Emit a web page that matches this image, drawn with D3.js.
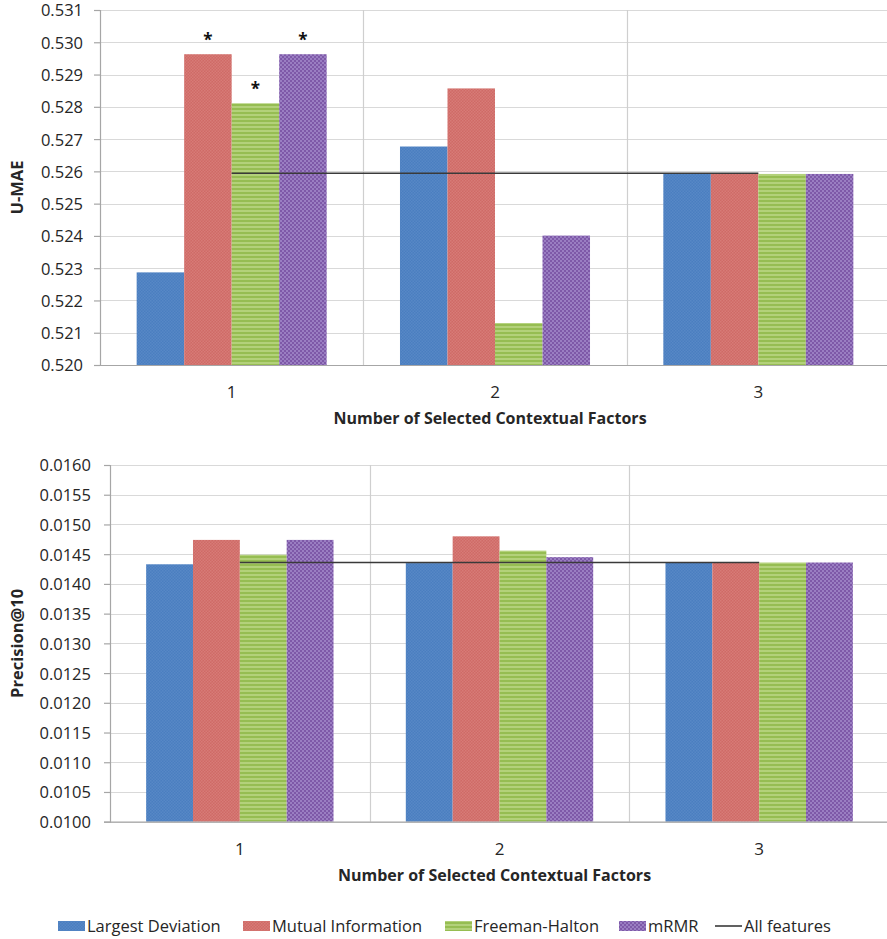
<!DOCTYPE html>
<html>
<head>
<meta charset="utf-8">
<script src="https://cdn.jsdelivr.net/npm/d3@7"></script>
<style>
  html, body { margin: 0; padding: 0; background: #fff; }
  svg { display: block; font-family: "Open Sans", "DejaVu Sans", sans-serif; }
</style>
</head>
<body>
<svg id="chart" width="887" height="939"></svg>
<script>
// Categories and series
const categories = ["1", "2", "3"];
const seriesNames = ["Largest Deviation", "Mutual Information", "Freeman-Halton", "mRMR"];

// U-MAE per series (one value per category)
const maeLargestDeviation = [0.52287, 0.52677, 0.52593];
const maeMutualInformation = [0.52963, 0.52857, 0.52593];
const maeFreemanHalton = [0.52811, 0.52130, 0.52592];
const maeMRMR = [0.52963, 0.52401, 0.52592];
const maeAllFeatures = [0.52594, 0.52594, 0.52594];
// significance markers (series index, category index)
const maeStars = [[1, 0], [2, 0], [3, 0]];
const maeTicks = [0.520, 0.521, 0.522, 0.523, 0.524, 0.525, 0.526, 0.527, 0.528, 0.529, 0.530, 0.531];

// Precision@10 per series
const precLargestDeviation = [0.01433, 0.01435, 0.01436];
const precMutualInformation = [0.01474, 0.01480, 0.01436];
const precFreemanHalton = [0.01449, 0.01456, 0.01436];
const precMRMR = [0.01474, 0.01445, 0.01436];
const precAllFeatures = [0.01436, 0.01436, 0.01436];
const precStars = [];
const precTicks = [0.0100, 0.0105, 0.0110, 0.0115, 0.0120, 0.0125, 0.0130, 0.0135, 0.0140, 0.0145, 0.0150, 0.0155, 0.0160];

const xTitle = "Number of Selected Contextual Factors";
const allLabel = "All features";

const patternIds = ["pat-blue", "pat-red", "pat-green", "pat-purple"];

const svg = d3.select("#chart");
const defs = svg.append("defs");

// Fill patterns for the bars
function dotPattern(id, base, dot, size) {
  const p = defs.append("pattern").attr("id", id).attr("patternUnits", "userSpaceOnUse")
    .attr("width", size).attr("height", size);
  p.append("rect").attr("width", size).attr("height", size).attr("fill", base);
  p.append("rect").attr("x", 0).attr("y", 0).attr("width", size / 2).attr("height", size / 2).attr("fill", dot);
  p.append("rect").attr("x", size / 2).attr("y", size / 2).attr("width", size / 2).attr("height", size / 2).attr("fill", dot);
}
dotPattern("pat-blue", "#4a7ec0", "#5788c6", 3);
dotPattern("pat-red", "#cf6a66", "#d77b77", 3);
dotPattern("pat-purple", "#7e59a8", "#9a7ec2", 4);
(function () {
  const p = defs.append("pattern").attr("id", "pat-green").attr("patternUnits", "userSpaceOnUse")
    .attr("width", 4).attr("height", 4);
  p.append("rect").attr("width", 4).attr("height", 4).attr("fill", "#96bd52");
  p.append("rect").attr("y", 2).attr("width", 4).attr("height", 2).attr("fill", "#b3d17a");
})();

function drawPanel(opts) {
  const { left, right, top, bottom, domain, ticks, fmt, seriesData, allData, stars, yTitle, catY, titleY, tickRight } = opts;
  const g = svg.append("g");

  const y = d3.scaleLinear().domain(domain).range([bottom, top]);
  const x0 = d3.scaleBand().domain(categories).range([left, right]).paddingInner(0).paddingOuter(0);
  const bw = x0.bandwidth();
  const pad = bw * 0.1392;
  const x1 = d3.scaleBand().domain(seriesNames).range([pad, bw - pad]).padding(0);

  // horizontal gridlines
  g.append("g").selectAll("line").data(ticks).join("line")
    .attr("x1", left).attr("x2", right + 5)
    .attr("y1", d => Math.round(y(d)) + 0.5).attr("y2", d => Math.round(y(d)) + 0.5)
    .attr("stroke", "#d9d9d9").attr("stroke-width", 1.2);

  // vertical category separators
  g.append("g").selectAll("line").data(categories.slice(1)).join("line")
    .attr("x1", d => Math.round(x0(d)) + 0.5).attr("x2", d => Math.round(x0(d)) + 0.5)
    .attr("y1", top).attr("y2", bottom)
    .attr("stroke", "#cfcfcf").attr("stroke-width", 1.2);

  // y axis
  const yAxis = d3.axisLeft(y).tickValues(ticks).tickFormat(d3.format(fmt)).tickSize(6).tickPadding(tickRight);
  const ya = g.append("g").attr("transform", `translate(${left},0)`).call(yAxis);
  ya.select(".domain").attr("stroke", "#a6a6a6").attr("stroke-width", 1.2);
  ya.selectAll(".tick line").attr("stroke", "#a6a6a6").attr("stroke-width", 1.2);
  ya.selectAll(".tick text").attr("font-size", 16.5).attr("fill", "#262626")
    .attr("font-family", "'Open Sans', sans-serif").attr("dy", "0.36em");

  // bars
  seriesData.forEach((vals, si) => {
    g.append("g").selectAll("rect").data(vals).join("rect")
      .attr("x", (d, ci) => x0(categories[ci]) + x1(seriesNames[si]))
      .attr("width", x1.bandwidth())
      .attr("y", d => y(d))
      .attr("height", d => bottom - y(d))
      .attr("fill", `url(#${patternIds[si]})`);
  });

  // x axis baseline
  g.append("line").attr("x1", left).attr("x2", right + 5)
    .attr("y1", bottom + 0.5).attr("y2", bottom + 0.5)
    .attr("stroke", "#a6a6a6").attr("stroke-width", 1.2);

  // "All features" reference line through category centres
  const line = d3.line().x((d, i) => x0(categories[i]) + bw / 2).y(d => y(d));
  g.append("path").datum(allData).attr("d", line)
    .attr("fill", "none").attr("stroke", "#3a3a3a").attr("stroke-width", 1.6);

  // significance stars
  g.append("g").selectAll("text").data(stars).join("text")
    .attr("x", d => x0(categories[d[1]]) + x1(seriesNames[d[0]]) + x1.bandwidth() / 2)
    .attr("y", d => y(seriesData[d[0]][d[1]]) - 8)
    .attr("text-anchor", "middle").attr("font-size", 17).attr("font-weight", "bold")
    .attr("fill", "#111").text("*");

  // category labels
  g.append("g").selectAll("text").data(categories).join("text")
    .attr("x", d => x0(d) + bw / 2).attr("y", catY)
    .attr("text-anchor", "middle").attr("font-size", 17).attr("fill", "#262626").text(d => d);

  // axis titles
  g.append("text").attr("x", (left + right) / 2 - 5).attr("y", titleY)
    .attr("text-anchor", "middle").attr("font-size", 16).attr("font-weight", "bold")
    .attr("fill", "#262626").text(xTitle);

  g.append("text").attr("transform", `translate(23,${(top + bottom) / 2}) rotate(-90)`)
    .attr("text-anchor", "middle").attr("font-size", 16.5).attr("font-weight", "bold")
    .attr("fill", "#262626").text(yTitle);
}

drawPanel({
  left: 100, right: 890, top: 10, bottom: 365,
  domain: [0.520, 0.531], ticks: maeTicks, fmt: ".3f",
  seriesData: [maeLargestDeviation, maeMutualInformation, maeFreemanHalton, maeMRMR],
  allData: maeAllFeatures, stars: maeStars, yTitle: "U-MAE",
  catY: 398, titleY: 424, tickRight: 11
});

drawPanel({
  left: 110, right: 889, top: 465, bottom: 821.7,
  domain: [0.0100, 0.0160], ticks: precTicks, fmt: ".4f",
  seriesData: [precLargestDeviation, precMutualInformation, precFreemanHalton, precMRMR],
  allData: precAllFeatures, stars: precStars, yTitle: "Precision@10",
  catY: 855, titleY: 881, tickRight: 13
});

// legend
const legendItems = [
  { label: seriesNames[0], x: 58, type: "bar", si: 0 },
  { label: seriesNames[1], x: 243, type: "bar", si: 1 },
  { label: seriesNames[2], x: 445, type: "bar", si: 2 },
  { label: seriesNames[3], x: 619, type: "bar", si: 3 },
  { label: allLabel, x: 715, type: "line" }
];
const lg = svg.append("g").attr("transform", "translate(0,926)");
legendItems.forEach(it => {
  if (it.type === "bar") {
    lg.append("rect").attr("x", it.x).attr("y", -5).attr("width", 27).attr("height", 10)
      .attr("fill", `url(#${patternIds[it.si]})`);
  } else {
    lg.append("line").attr("x1", it.x).attr("x2", it.x + 27).attr("y1", 0).attr("y2", 0)
      .attr("stroke", "#3a3a3a").attr("stroke-width", 1.6);
  }
  lg.append("text").attr("x", it.x + 29).attr("y", 6).attr("font-size", 16.5)
    .attr("fill", "#262626").text(it.label);
});
</script>
</body>
</html>
